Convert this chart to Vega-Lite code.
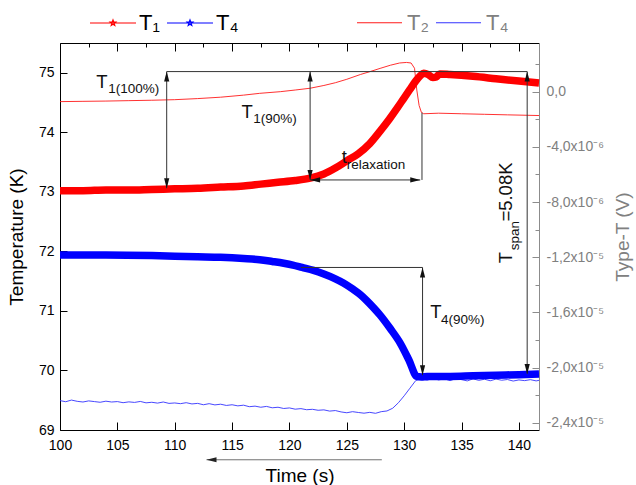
{
  "$schema": "https://vega.github.io/schema/vega-lite/v6.json",
  "width": 479,
  "height": 387,
  "autosize": {"type": "none"},
  "padding": {"left": 60, "top": 43, "right": 97, "bottom": 55},
  "background": "white",
  "config": {
    "font": "Liberation Sans",
    "view": {"stroke": null},
    "axis": {
      "labelFont": "Liberation Sans",
      "titleFont": "Liberation Sans",
      "labelFontSize": 14,
      "titleFontSize": 19,
      "titleFontWeight": "normal",
      "grid": false,
      "labelFlush": false,
      "labelOverlap": false,
      "domainWidth": 1,
      "tickWidth": 1
    },
    "legend": {"labelFont": "Liberation Sans"},
    "text": {"font": "Liberation Sans"}
  },
  "datasets": {
    "thick": [
      {"series": "T₁", "t": 100, "T": 73.02},
      {"series": "T₁", "t": 102, "T": 73.02},
      {"series": "T₁", "t": 104, "T": 73.03},
      {"series": "T₁", "t": 106, "T": 73.03},
      {"series": "T₁", "t": 108, "T": 73.04},
      {"series": "T₁", "t": 110, "T": 73.05},
      {"series": "T₁", "t": 112, "T": 73.06},
      {"series": "T₁", "t": 114, "T": 73.08},
      {"series": "T₁", "t": 116, "T": 73.1},
      {"series": "T₁", "t": 117.5, "T": 73.13},
      {"series": "T₁", "t": 119, "T": 73.16},
      {"series": "T₁", "t": 120.5, "T": 73.19},
      {"series": "T₁", "t": 121.8, "T": 73.23},
      {"series": "T₁", "t": 123, "T": 73.3},
      {"series": "T₁", "t": 124, "T": 73.4},
      {"series": "T₁", "t": 125, "T": 73.52},
      {"series": "T₁", "t": 126, "T": 73.64},
      {"series": "T₁", "t": 127, "T": 73.81},
      {"series": "T₁", "t": 127.9, "T": 74.02},
      {"series": "T₁", "t": 128.7, "T": 74.22},
      {"series": "T₁", "t": 129.4, "T": 74.41},
      {"series": "T₁", "t": 130, "T": 74.58},
      {"series": "T₁", "t": 130.5, "T": 74.72},
      {"series": "T₁", "t": 131, "T": 74.86},
      {"series": "T₁", "t": 131.4, "T": 74.95},
      {"series": "T₁", "t": 131.7, "T": 74.99},
      {"series": "T₁", "t": 132.1, "T": 74.97},
      {"series": "T₁", "t": 132.5, "T": 74.92},
      {"series": "T₁", "t": 132.8, "T": 74.93},
      {"series": "T₁", "t": 133.1, "T": 74.98},
      {"series": "T₁", "t": 134, "T": 74.97},
      {"series": "T₁", "t": 136, "T": 74.94},
      {"series": "T₁", "t": 138, "T": 74.9},
      {"series": "T₁", "t": 140, "T": 74.86},
      {"series": "T₁", "t": 141.75, "T": 74.83},
      {"series": "T₄", "t": 100, "T": 71.94},
      {"series": "T₄", "t": 104, "T": 71.94},
      {"series": "T₄", "t": 108, "T": 71.93},
      {"series": "T₄", "t": 110, "T": 71.92},
      {"series": "T₄", "t": 112, "T": 71.91},
      {"series": "T₄", "t": 114, "T": 71.9},
      {"series": "T₄", "t": 116, "T": 71.88},
      {"series": "T₄", "t": 117.4, "T": 71.86},
      {"series": "T₄", "t": 118.5, "T": 71.83},
      {"series": "T₄", "t": 119.5, "T": 71.8},
      {"series": "T₄", "t": 120.3, "T": 71.77},
      {"series": "T₄", "t": 121.1, "T": 71.73},
      {"series": "T₄", "t": 122.1, "T": 71.68},
      {"series": "T₄", "t": 123, "T": 71.62},
      {"series": "T₄", "t": 124, "T": 71.54},
      {"series": "T₄", "t": 124.7, "T": 71.47},
      {"series": "T₄", "t": 125.5, "T": 71.37},
      {"series": "T₄", "t": 126.2, "T": 71.27},
      {"series": "T₄", "t": 126.7, "T": 71.18},
      {"series": "T₄", "t": 127.3, "T": 71.06},
      {"series": "T₄", "t": 127.9, "T": 70.93},
      {"series": "T₄", "t": 128.8, "T": 70.7},
      {"series": "T₄", "t": 129.65, "T": 70.46},
      {"series": "T₄", "t": 130.4, "T": 70.18},
      {"series": "T₄", "t": 131.1, "T": 69.9},
      {"series": "T₄", "t": 131.5, "T": 69.89},
      {"series": "T₄", "t": 132, "T": 69.9},
      {"series": "T₄", "t": 134, "T": 69.9},
      {"series": "T₄", "t": 136, "T": 69.91},
      {"series": "T₄", "t": 138, "T": 69.92},
      {"series": "T₄", "t": 140, "T": 69.93},
      {"series": "T₄", "t": 141.75, "T": 69.94}
    ],
    "thin": [
      {"series": "T₂", "t": 100, "V": -7.2e-7},
      {"series": "T₂", "t": 102, "V": -7.0e-7},
      {"series": "T₂", "t": 104, "V": -6.8e-7},
      {"series": "T₂", "t": 106, "V": -6.5e-7},
      {"series": "T₂", "t": 108, "V": -6.2e-7},
      {"series": "T₂", "t": 110, "V": -5.8e-7},
      {"series": "T₂", "t": 112, "V": -5.0e-7},
      {"series": "T₂", "t": 114, "V": -4.0e-7},
      {"series": "T₂", "t": 116, "V": -2.5e-7},
      {"series": "T₂", "t": 117.4, "V": -1.2e-7},
      {"series": "T₂", "t": 119.2, "V": 0},
      {"series": "T₂", "t": 120.5, "V": 1.2e-7},
      {"series": "T₂", "t": 121.8, "V": 2.5e-7},
      {"series": "T₂", "t": 123, "V": 4.5e-7},
      {"series": "T₂", "t": 124, "V": 6.5e-7},
      {"series": "T₂", "t": 125, "V": 9.0e-7},
      {"series": "T₂", "t": 126.2, "V": 1.25e-6},
      {"series": "T₂", "t": 127, "V": 1.45e-6},
      {"series": "T₂", "t": 127.9, "V": 1.69e-6},
      {"series": "T₂", "t": 128.8, "V": 1.92e-6},
      {"series": "T₂", "t": 129.6, "V": 2.08e-6},
      {"series": "T₂", "t": 130.2, "V": 2.12e-6},
      {"series": "T₂", "t": 130.6, "V": 2.08e-6},
      {"series": "T₂", "t": 130.9, "V": 1.7e-6},
      {"series": "T₂", "t": 131.1, "V": 1.2e-7},
      {"series": "T₂", "t": 131.3, "V": -1.0e-6},
      {"series": "T₂", "t": 131.5, "V": -1.5e-6},
      {"series": "T₂", "t": 131.7, "V": -1.6e-6},
      {"series": "T₂", "t": 133, "V": -1.56e-6},
      {"series": "T₂", "t": 135, "V": -1.6e-6},
      {"series": "T₂", "t": 137, "V": -1.64e-6},
      {"series": "T₂", "t": 139, "V": -1.68e-6},
      {"series": "T₂", "t": 141.75, "V": -1.73e-6},
      {"series": "T₄", "t": 100, "V": -2.240e-5},
      {"series": "T₄", "t": 100.5, "V": -2.248e-5},
      {"series": "T₄", "t": 101, "V": -2.236e-5},
      {"series": "T₄", "t": 101.5, "V": -2.245e-5},
      {"series": "T₄", "t": 102, "V": -2.250e-5},
      {"series": "T₄", "t": 102.5, "V": -2.242e-5},
      {"series": "T₄", "t": 103, "V": -2.247e-5},
      {"series": "T₄", "t": 103.5, "V": -2.252e-5},
      {"series": "T₄", "t": 104, "V": -2.244e-5},
      {"series": "T₄", "t": 104.5, "V": -2.250e-5},
      {"series": "T₄", "t": 105, "V": -2.247e-5},
      {"series": "T₄", "t": 105.5, "V": -2.255e-5},
      {"series": "T₄", "t": 106, "V": -2.249e-5},
      {"series": "T₄", "t": 106.5, "V": -2.253e-5},
      {"series": "T₄", "t": 107, "V": -2.246e-5},
      {"series": "T₄", "t": 107.5, "V": -2.256e-5},
      {"series": "T₄", "t": 108, "V": -2.252e-5},
      {"series": "T₄", "t": 108.5, "V": -2.258e-5},
      {"series": "T₄", "t": 109, "V": -2.250e-5},
      {"series": "T₄", "t": 109.5, "V": -2.260e-5},
      {"series": "T₄", "t": 110, "V": -2.257e-5},
      {"series": "T₄", "t": 110.5, "V": -2.262e-5},
      {"series": "T₄", "t": 111, "V": -2.255e-5},
      {"series": "T₄", "t": 111.5, "V": -2.264e-5},
      {"series": "T₄", "t": 112, "V": -2.260e-5},
      {"series": "T₄", "t": 112.5, "V": -2.270e-5},
      {"series": "T₄", "t": 113, "V": -2.262e-5},
      {"series": "T₄", "t": 113.5, "V": -2.271e-5},
      {"series": "T₄", "t": 114, "V": -2.266e-5},
      {"series": "T₄", "t": 114.5, "V": -2.275e-5},
      {"series": "T₄", "t": 115, "V": -2.270e-5},
      {"series": "T₄", "t": 115.5, "V": -2.278e-5},
      {"series": "T₄", "t": 116, "V": -2.273e-5},
      {"series": "T₄", "t": 116.5, "V": -2.284e-5},
      {"series": "T₄", "t": 117, "V": -2.280e-5},
      {"series": "T₄", "t": 117.5, "V": -2.288e-5},
      {"series": "T₄", "t": 118, "V": -2.282e-5},
      {"series": "T₄", "t": 118.5, "V": -2.292e-5},
      {"series": "T₄", "t": 119, "V": -2.288e-5},
      {"series": "T₄", "t": 119.5, "V": -2.297e-5},
      {"series": "T₄", "t": 120, "V": -2.293e-5},
      {"series": "T₄", "t": 120.5, "V": -2.302e-5},
      {"series": "T₄", "t": 121, "V": -2.298e-5},
      {"series": "T₄", "t": 121.5, "V": -2.306e-5},
      {"series": "T₄", "t": 122, "V": -2.303e-5},
      {"series": "T₄", "t": 122.5, "V": -2.310e-5},
      {"series": "T₄", "t": 123, "V": -2.307e-5},
      {"series": "T₄", "t": 123.5, "V": -2.316e-5},
      {"series": "T₄", "t": 124, "V": -2.312e-5},
      {"series": "T₄", "t": 124.5, "V": -2.322e-5},
      {"series": "T₄", "t": 125, "V": -2.328e-5},
      {"series": "T₄", "t": 125.5, "V": -2.320e-5},
      {"series": "T₄", "t": 126, "V": -2.326e-5},
      {"series": "T₄", "t": 126.5, "V": -2.331e-5},
      {"series": "T₄", "t": 127, "V": -2.325e-5},
      {"series": "T₄", "t": 127.5, "V": -2.332e-5},
      {"series": "T₄", "t": 128, "V": -2.320e-5},
      {"series": "T₄", "t": 128.5, "V": -2.315e-5},
      {"series": "T₄", "t": 129, "V": -2.295e-5},
      {"series": "T₄", "t": 129.5, "V": -2.255e-5},
      {"series": "T₄", "t": 130, "V": -2.205e-5},
      {"series": "T₄", "t": 130.5, "V": -2.150e-5},
      {"series": "T₄", "t": 131, "V": -2.095e-5},
      {"series": "T₄", "t": 131.5, "V": -2.080e-5},
      {"series": "T₄", "t": 132, "V": -2.092e-5},
      {"series": "T₄", "t": 132.5, "V": -2.078e-5},
      {"series": "T₄", "t": 133, "V": -2.090e-5},
      {"series": "T₄", "t": 133.5, "V": -2.082e-5},
      {"series": "T₄", "t": 134, "V": -2.095e-5},
      {"series": "T₄", "t": 134.5, "V": -2.080e-5},
      {"series": "T₄", "t": 135, "V": -2.088e-5},
      {"series": "T₄", "t": 135.5, "V": -2.097e-5},
      {"series": "T₄", "t": 136, "V": -2.082e-5},
      {"series": "T₄", "t": 136.5, "V": -2.093e-5},
      {"series": "T₄", "t": 137, "V": -2.085e-5},
      {"series": "T₄", "t": 137.5, "V": -2.096e-5},
      {"series": "T₄", "t": 138, "V": -2.084e-5},
      {"series": "T₄", "t": 138.5, "V": -2.092e-5},
      {"series": "T₄", "t": 139, "V": -2.087e-5},
      {"series": "T₄", "t": 139.5, "V": -2.098e-5},
      {"series": "T₄", "t": 140, "V": -2.090e-5},
      {"series": "T₄", "t": 140.5, "V": -2.095e-5},
      {"series": "T₄", "t": 141, "V": -2.088e-5},
      {"series": "T₄", "t": 141.5, "V": -2.097e-5},
      {"series": "T₄", "t": 141.75, "V": -2.093e-5}
    ],
    "guides": [
      {"t": 109.3, "T": 75.02, "t2": 140.72, "T2": 75.02},
      {"t": 109.3, "T": 75.02, "t2": 109.3, "T2": 73.06},
      {"t": 121.8, "T": 75.02, "t2": 121.8, "T2": 73.2},
      {"t": 121.8, "T": 73.2, "t2": 131.4, "T2": 73.2},
      {"t": 131.55, "T": 74.33, "t2": 131.55, "T2": 73.2},
      {"t": 121.0, "T": 71.73, "t2": 131.6, "T2": 71.73},
      {"t": 131.6, "T": 71.73, "t2": 131.6, "T2": 69.92},
      {"t": 140.72, "T": 75.02, "t2": 140.72, "T2": 69.94}
    ],
    "heads": [
      {"t": 109.3, "T": 75.02, "dir": "up"},
      {"t": 109.3, "T": 73.06, "dir": "down"},
      {"t": 121.8, "T": 75.02, "dir": "up"},
      {"t": 121.8, "T": 73.2, "dir": "down"},
      {"t": 121.8, "T": 73.2, "dir": "left"},
      {"t": 131.4, "T": 73.2, "dir": "right"},
      {"t": 131.6, "T": 71.73, "dir": "up"},
      {"t": 131.6, "T": 69.92, "dir": "down"},
      {"t": 140.72, "T": 75.02, "dir": "up"},
      {"t": 140.72, "T": 69.94, "dir": "down"}
    ],
    "timeArrow": [{"t": 112.77, "T": 68.5, "t2": 128.05, "T2": 68.5}],
    "notes": [
      {"t": 103.16, "T": 74.745, "text": "T"},
      {"t": 115.83, "T": 74.24, "text": "T"},
      {"t": 124.56, "T": 73.48, "text": "t"},
      {"t": 132.27, "T": 70.877, "text": "T"}
    ],
    "noteSubs": [
      {"t": 104.2, "T": 74.66, "text": "1(100%)"},
      {"t": 116.84, "T": 74.15, "text": "1(90%)"},
      {"t": 125.0, "T": 73.38, "text": "relaxation"},
      {"t": 133.2, "T": 70.78, "text": "4(90%)"}
    ],
    "span": [
      {"t": 139.4, "T": 71.8, "text": "T"},
      {"t": 139.4, "T": 72.5, "text": "=5.08K"}
    ],
    "spanSub": [{"t": 140.04, "T": 72.02, "text": "span"}]
  },
  "layer": [
    {
      "data": {"name": "thin"},
      "mark": {"type": "line", "strokeWidth": 0.9, "interpolate": "linear"},
      "encoding": {
        "x": {
          "field": "t", "type": "quantitative",
          "scale": {"domain": [100, 141.75], "nice": false, "zero": false},
          "axis": {
            "orient": "top", "labels": false, "title": null,
            "values": [100, 102.5, 105, 107.5, 110, 112.5, 115, 117.5, 120, 122.5, 125, 127.5, 130, 132.5, 135, 137.5, 140],
            "tickSize": {"condition": {"test": "datum.value % 5 === 0", "value": -8}, "value": -4},
            "domainColor": "#000", "tickColor": "#000"
          }
        },
        "y": {
          "field": "V", "type": "quantitative",
          "scale": {"domain": [-2.453e-5, 3.53e-6], "nice": false, "zero": false},
          "axis": {
            "orient": "right", "title": "Type-T (V)", "titleAngle": 270,
            "values": [-2.4e-5, -2.2e-5, -2e-5, -1.8e-5, -1.6e-5, -1.4e-5, -1.2e-5, -1e-5, -8e-6, -6e-6, -4e-6, -2e-6, 0, 2e-6],
            "labelExpr": "round(datum.value*1e6) === 0 ? '0,0' : (round(datum.value*1e6) % 4 !== 0 ? '' : (abs(round(datum.value*1e6)) < 10 ? '-' + replace(format(abs(round(datum.value*1e6)), '.1f'), '.', ',') + 'x10⁻⁶' : '-' + replace(format(abs(round(datum.value*1e6))/10, '.1f'), '.', ',') + 'x10⁻⁵'))",
            "tickSize": {"condition": {"test": "round(datum.value*1e6) % 4 === 0", "value": -7}, "value": -4},
            "labelPadding": 14,
            "titlePadding": 29,
            "domainColor": "#8c8c8c", "tickColor": "#8c8c8c",
            "labelColor": "#808080", "titleColor": "#808080"
          }
        },
        "color": {
          "field": "series", "type": "nominal",
          "scale": {"domain": ["T₂", "T₄"], "range": ["#ff1a1a", "#3333ff"]},
          "legend": {
            "orient": "none", "legendX": 296, "legendY": -44,
            "direction": "horizontal", "title": null,
            "symbolType": "stroke", "symbolSize": 2025, "symbolStrokeWidth": 1.2,
            "labelFontSize": 22, "labelColor": "#808080",
            "labelOffset": 4, "columnPadding": 4, "padding": 0
          }
        }
      }
    },
    {
      "layer": [
        {
          "data": {"name": "thick"},
          "mark": {"type": "line", "strokeWidth": 7.5, "interpolate": "monotone"},
          "encoding": {
            "x": {
              "field": "t", "type": "quantitative",
              "scale": {"domain": [100, 141.75], "nice": false, "zero": false},
              "axis": {
                "orient": "bottom", "title": "Time (s)",
                "values": [100, 102.5, 105, 107.5, 110, 112.5, 115, 117.5, 120, 122.5, 125, 127.5, 130, 132.5, 135, 137.5, 140],
                "labelExpr": "datum.value % 5 === 0 ? format(datum.value, 'd') : ''",
                "tickSize": {"condition": {"test": "datum.value % 5 === 0", "value": -8}, "value": -4},
                "labelPadding": 16,
                "titlePadding": 14,
                "domainColor": "#000", "tickColor": "#000", "labelColor": "#000", "titleColor": "#000"
              }
            },
            "y": {
              "field": "T", "type": "quantitative",
              "scale": {"domain": [69, 75.5], "nice": false, "zero": false},
              "axis": {
                "orient": "left", "title": "Temperature (K)",
                "values": [69, 69.5, 70, 70.5, 71, 71.5, 72, 72.5, 73, 73.5, 74, 74.5, 75],
                "labelExpr": "datum.value % 1 === 0 ? format(datum.value, 'd') : ''",
                "tickSize": {"condition": {"test": "datum.value % 1 === 0", "value": -7}, "value": -4},
                "labelPadding": 13,
                "titlePadding": 12,
                "domainColor": "#000", "tickColor": "#000", "labelColor": "#000", "titleColor": "#000"
              }
            },
            "color": {
              "field": "series", "type": "nominal",
              "scale": {"domain": ["T₁", "T₄"], "range": ["#ff0000", "#0000ff"]},
              "legend": {
                "orient": "none", "legendX": 29, "legendY": -44,
                "direction": "horizontal", "title": null,
                "symbolType": "M0,-0.13L0.0323,-0.0445L0.1236,-0.0402L0.0523,0.017L0.0764,0.1052L0,0.055L-0.0764,0.1052L-0.0523,0.017L-0.1236,-0.0402L-0.0323,-0.0445ZM-1,0H1",
                "symbolSize": 2116, "symbolStrokeWidth": 1.2,
                "labelFontSize": 22, "labelColor": "#000",
                "labelOffset": 2, "columnPadding": 4, "padding": 0
              }
            }
          }
        },
        {
          "data": {"name": "guides"},
          "mark": {"type": "rule", "color": "#333333", "strokeWidth": 1},
          "encoding": {
            "x": {"field": "t", "type": "quantitative"},
            "y": {"field": "T", "type": "quantitative"},
            "x2": {"field": "t2"},
            "y2": {"field": "T2"}
          }
        },
        {
          "data": {"name": "heads"},
          "transform": [{"filter": "datum.dir === 'up'"}],
          "mark": {"type": "point", "shape": "M0,0L0.26,1L-0.26,1Z", "size": 400, "filled": true, "color": "#111111", "opacity": 1},
          "encoding": {"x": {"field": "t", "type": "quantitative"}, "y": {"field": "T", "type": "quantitative"}}
        },
        {
          "data": {"name": "heads"},
          "transform": [{"filter": "datum.dir === 'down'"}],
          "mark": {"type": "point", "shape": "M0,0L0.26,-1L-0.26,-1Z", "size": 400, "filled": true, "color": "#111111", "opacity": 1},
          "encoding": {"x": {"field": "t", "type": "quantitative"}, "y": {"field": "T", "type": "quantitative"}}
        },
        {
          "data": {"name": "heads"},
          "transform": [{"filter": "datum.dir === 'left'"}],
          "mark": {"type": "point", "shape": "M0,0L1,0.26L1,-0.26Z", "size": 400, "filled": true, "color": "#111111", "opacity": 1},
          "encoding": {"x": {"field": "t", "type": "quantitative"}, "y": {"field": "T", "type": "quantitative"}}
        },
        {
          "data": {"name": "heads"},
          "transform": [{"filter": "datum.dir === 'right'"}],
          "mark": {"type": "point", "shape": "M0,0L-1,0.26L-1,-0.26Z", "size": 400, "filled": true, "color": "#111111", "opacity": 1},
          "encoding": {"x": {"field": "t", "type": "quantitative"}, "y": {"field": "T", "type": "quantitative"}}
        },
        {
          "data": {"name": "timeArrow"},
          "mark": {"type": "rule", "color": "#707070", "strokeWidth": 1},
          "encoding": {
            "x": {"field": "t", "type": "quantitative"},
            "y": {"field": "T", "type": "quantitative"},
            "x2": {"field": "t2"},
            "y2": {"field": "T2"}
          }
        },
        {
          "data": {"name": "timeArrow"},
          "mark": {"type": "point", "shape": "M0,0L1,0.26L1,-0.26Z", "size": 400, "filled": true, "color": "#222222", "opacity": 1},
          "encoding": {"x": {"field": "t", "type": "quantitative"}, "y": {"field": "T", "type": "quantitative"}}
        },
        {
          "data": {"name": "notes"},
          "mark": {"type": "text", "align": "left", "baseline": "alphabetic", "fontSize": 18.5, "color": "#111111"},
          "encoding": {
            "x": {"field": "t", "type": "quantitative"},
            "y": {"field": "T", "type": "quantitative"},
            "text": {"field": "text"}
          }
        },
        {
          "data": {"name": "noteSubs"},
          "mark": {"type": "text", "align": "left", "baseline": "alphabetic", "fontSize": 13.5, "color": "#111111"},
          "encoding": {
            "x": {"field": "t", "type": "quantitative"},
            "y": {"field": "T", "type": "quantitative"},
            "text": {"field": "text"}
          }
        },
        {
          "data": {"name": "span"},
          "mark": {"type": "text", "align": "left", "baseline": "alphabetic", "angle": 270, "fontSize": 18.5, "color": "#111111"},
          "encoding": {
            "x": {"field": "t", "type": "quantitative"},
            "y": {"field": "T", "type": "quantitative"},
            "text": {"field": "text"}
          }
        },
        {
          "data": {"name": "spanSub"},
          "mark": {"type": "text", "align": "left", "baseline": "alphabetic", "angle": 270, "fontSize": 13.5, "color": "#111111"},
          "encoding": {
            "x": {"field": "t", "type": "quantitative"},
            "y": {"field": "T", "type": "quantitative"},
            "text": {"field": "text"}
          }
        }
      ]
    }
  ],
  "resolve": {
    "scale": {"y": "independent", "color": "independent"},
    "axis": {"x": "independent", "y": "independent"}
  }
}
